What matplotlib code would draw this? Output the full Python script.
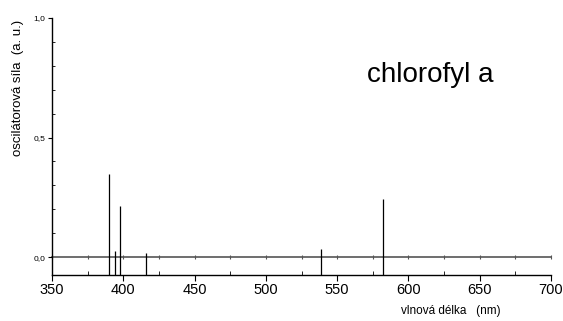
import matplotlib.pyplot as plt
from matplotlib.ticker import MultipleLocator, FuncFormatter

plt.rcParams['font.family'] = ['Liberation Sans', 'DejaVu Sans']

# vlnove delky prechodu (nm) a oscilatorove sily
vlnova_delka = [390.2, 394.4, 397.5, 415.9, 538.6, 582.1]
osc_sila = [0.347, 0.026, 0.213, 0.015, 0.033, 0.243]

y_dole = -0.075

fig = plt.figure(figsize=(5.63, 3.21), dpi=100)
ax = fig.add_axes([0.0924, 0.1433, 0.8863, 0.8007])

ax.vlines(vlnova_delka, y_dole, osc_sila, color='black', lw=0.9)

ax.set_xlim(350, 700)
ax.set_ylim(y_dole, 1.0)

ax.spines['top'].set_visible(False)
ax.spines['right'].set_visible(False)
ax.spines['left'].set_linewidth(1.0)
ax.spines['bottom'].set_linewidth(1.0)

ax.xaxis.set_major_locator(MultipleLocator(50))
ax.xaxis.set_minor_locator(MultipleLocator(25))
ax.yaxis.set_major_locator(MultipleLocator(0.5))
ax.yaxis.set_minor_locator(MultipleLocator(0.1))
ax.yaxis.set_major_formatter(FuncFormatter(lambda v, p: f"{v:.1f}".replace('.', ',')))

ax.tick_params(axis='x', which='major', direction='out', length=4, labelsize=10.5, pad=2)
ax.tick_params(axis='x', which='minor', direction='in', length=3)
ax.tick_params(axis='y', which='major', direction='out', length=3, labelsize=6, pad=2)
ax.tick_params(axis='y', which='minor', direction='in', length=2)

# osa v nule s carkami
nula = ax.secondary_xaxis((0 - y_dole) / (1.0 - y_dole))
nula.spines['bottom'].set_color('#555555')
nula.spines['bottom'].set_linewidth(1.2)
nula.xaxis.set_major_locator(MultipleLocator(25))
nula.tick_params(direction='inout', length=3, color='#555555', labelbottom=False)

ax.text(-0.068, 0.728, "oscilátorová síla  (a. u.)", transform=ax.transAxes,
        fontsize=9.5, rotation=90, ha='center', va='center')
ax.set_xlabel("vlnová délka   (nm)", fontsize=8.5)
ax.xaxis.set_label_coords(0.8, -0.115)

ax.text(0.631, 0.778, "chlorofyl a", transform=ax.transAxes, fontsize=20, va='center')

plt.savefig("out.png", dpi=100)
